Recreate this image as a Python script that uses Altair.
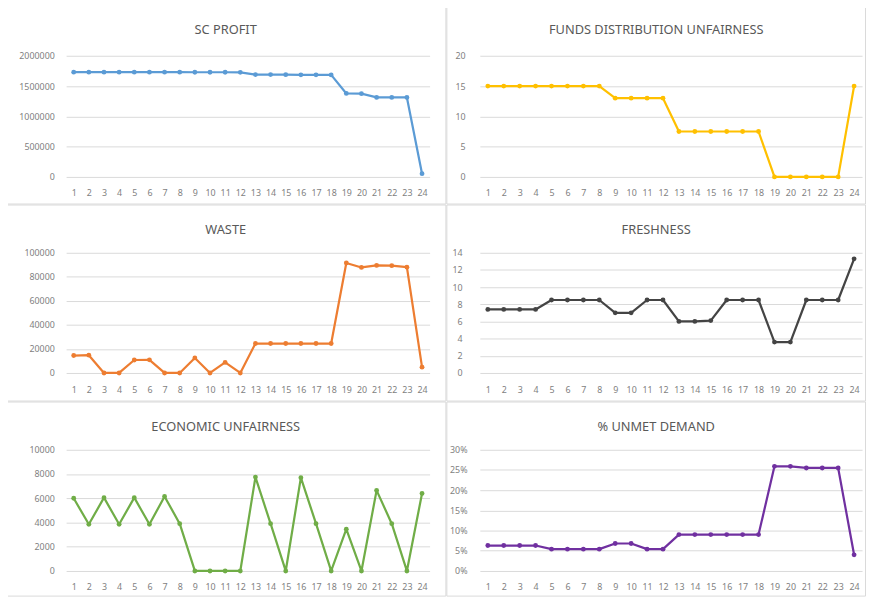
import altair as alt
import pandas as pd

runs = list(range(1, 25))

sc_profit = [1730000, 1730000, 1730000, 1730000, 1730000, 1730000, 1730000, 1730000,
             1728000, 1728000, 1728000, 1726000, 1690000, 1690000, 1688000, 1686000,
             1686000, 1684000, 1378000, 1375000, 1313000, 1313000, 1312000, 54000]
funds_unfair = [15, 15, 15, 15, 15, 15, 15, 15, 13, 13, 13, 13,
                7.5, 7.5, 7.5, 7.5, 7.5, 7.5, 0, 0, 0, 0, 0, 15]
waste = [14500, 14800, 0, 0, 10800, 10900, 0, 0, 12500, 0, 8800, 0,
         24500, 24500, 24500, 24500, 24500, 24500, 91500, 87800, 89500, 89300, 88000, 4800]
freshness = [7.4, 7.4, 7.4, 7.4, 8.5, 8.5, 8.5, 8.5, 7.0, 7.0, 8.5, 8.5,
             6.0, 6.0, 6.1, 8.5, 8.5, 8.5, 3.6, 3.6, 8.5, 8.5, 8.5, 13.3]
econ_unfair = [6000, 3850, 6050, 3850, 6050, 3850, 6150, 3900, 0, 0, 0, 0,
               7750, 3900, 0, 7700, 3900, 0, 3450, 0, 6650, 3900, 0, 6400]
unmet = [0.063, 0.063, 0.063, 0.063, 0.054, 0.054, 0.054, 0.054, 0.068, 0.068, 0.054, 0.054,
         0.090, 0.090, 0.090, 0.090, 0.090, 0.090, 0.259, 0.259, 0.255, 0.255, 0.255, 0.040]

titles = ["SC PROFIT", "FUNDS DISTRIBUTION UNFAIRNESS", "WASTE", "FRESHNESS",
          "ECONOMIC UNFAIRNESS", "% UNMET DEMAND"]
colors = ["#5B9BD5", "#FFC000", "#ED7D31", "#444444", "#70AD47", "#7030A0"]

FONT = "Noto Sans"
GRID = "#d9d9d9"
LABEL = "#7f7f7f"

# column geometry (left margin, plot width, right margin)
COLS = [(62, 369, 17), (34, 388, 4)]
# row geometry (top margin, plot height, bottom margin)
ROWS = [(52, 123, 28), (49, 122, 29), (49, 123, 26)]


def panel(title, values, color, ticks, fmt, col, row, ypad, xpad):
    L, W, R = COLS[col]
    T, H, B = ROWS[row]
    df = pd.DataFrame({"run": runs, "value": values})
    x = alt.X("run:O", sort=runs,
              axis=alt.Axis(title=None, labelAngle=0, ticks=False, domain=False, grid=False,
                            labelPadding=xpad, labelFontSize=9, labelColor=LABEL,
                            labelFont=FONT, labelOverlap=False))
    y = alt.Y("value:Q", scale=alt.Scale(domain=[ticks[0], ticks[-1]], nice=False),
              axis=alt.Axis(title=None, values=ticks, format=fmt, grid=True, gridColor=GRID,
                            gridWidth=1, domain=False, ticks=False, labelPadding=ypad,
                            labelFontSize=9, labelColor=LABEL, labelFont=FONT))
    line = alt.Chart(df).mark_line(
        color=color, strokeWidth=2.25, strokeJoin="round",
        point=alt.OverlayMarkDef(filled=True, size=24, color=color, opacity=1),
    ).encode(x=x, y=y)
    box = alt.Chart(pd.DataFrame({"k": [0]})).mark_rect(
        fillOpacity=0, stroke=GRID, strokeWidth=1
    ).encode(x=alt.value(-L + 0.5), x2=alt.value(W + R - 0.5),
             y=alt.value(-T + 0.5), y2=alt.value(H + B - 0.5))
    cx = (L + W + R) / 2 - L
    ttl = alt.Chart(pd.DataFrame({"t": [title]})).mark_text(
        font=FONT, fontSize=13, color="#595959", baseline="middle", align="center"
    ).encode(x=alt.value(cx), y=alt.value(-T + 26), text="t:N")
    return alt.layer(box, ttl, line).properties(width=W, height=H)


p1 = panel(titles[0], sc_profit, colors[0], [0, 500000, 1000000, 1500000, 2000000], "d",
           0, 0, 12, 12)
p2 = panel(titles[1], funds_unfair, colors[1], [0, 5, 10, 15, 20], "d",
           1, 0, 15, 12)
p3 = panel(titles[2], waste, colors[2], [0, 20000, 40000, 60000, 80000, 100000], "d",
           0, 1, 12, 13)
p4 = panel(titles[3], freshness, colors[3], [0, 2, 4, 6, 8, 10, 12, 14], "d",
           1, 1, 18, 13)
p5 = panel(titles[4], econ_unfair, colors[4], [0, 2000, 4000, 6000, 8000, 10000], "d",
           0, 2, 12, 12)
p6 = panel(titles[5], unmet, colors[5], [0, 0.05, 0.10, 0.15, 0.20, 0.25, 0.30], ".0%",
           1, 2, 13, 12)

chart = alt.concat(p1, p2, p3, p4, p5, p6, columns=2, spacing=0).properties(
    padding={"left": -3, "top": -8, "right": 0, "bottom": 0},
    background="white",
).configure_view(stroke=None)

chart.save("out.html", embed_options={"renderer": "svg", "actions": False})
